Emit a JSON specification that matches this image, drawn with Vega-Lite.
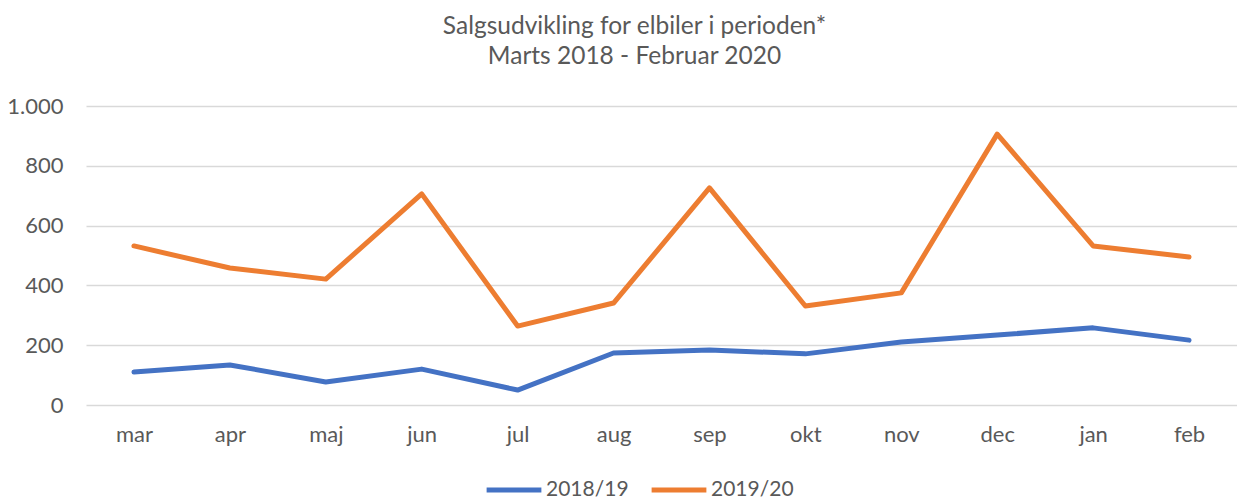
{
  "$schema": "https://vega.github.io/schema/vega-lite/v6.json",
  "autosize": "none",
  "width": 1151,
  "height": 299,
  "padding": {"left": 86, "top": 106, "right": 0, "bottom": 95},
  "background": "white",
  "config": {"font": "Lato", "view": {"stroke": null}},
  "title": {
    "text": ["Salgsudvikling for elbiler i perioden*", "Marts 2018 - Februar 2020"],
    "fontSize": 24.5, "fontWeight": "normal", "color": "#595959",
    "lineHeight": 30, "anchor": "middle", "dx": -27, "offset": 26
  },
  "data": {"values": [
    {"m": "mar", "s": "2018/19", "v": 110}, {"m": "apr", "s": "2018/19", "v": 134},
    {"m": "maj", "s": "2018/19", "v": 77}, {"m": "jun", "s": "2018/19", "v": 120},
    {"m": "jul", "s": "2018/19", "v": 50}, {"m": "aug", "s": "2018/19", "v": 174},
    {"m": "sep", "s": "2018/19", "v": 184}, {"m": "okt", "s": "2018/19", "v": 171},
    {"m": "nov", "s": "2018/19", "v": 211}, {"m": "dec", "s": "2018/19", "v": 234},
    {"m": "jan", "s": "2018/19", "v": 258}, {"m": "feb", "s": "2018/19", "v": 217},
    {"m": "mar", "s": "2019/20", "v": 532}, {"m": "apr", "s": "2019/20", "v": 458},
    {"m": "maj", "s": "2019/20", "v": 421}, {"m": "jun", "s": "2019/20", "v": 706},
    {"m": "jul", "s": "2019/20", "v": 264}, {"m": "aug", "s": "2019/20", "v": 341},
    {"m": "sep", "s": "2019/20", "v": 726}, {"m": "okt", "s": "2019/20", "v": 331},
    {"m": "nov", "s": "2019/20", "v": 375}, {"m": "dec", "s": "2019/20", "v": 906},
    {"m": "jan", "s": "2019/20", "v": 532}, {"m": "feb", "s": "2019/20", "v": 495}
  ]},
  "mark": {"type": "line", "strokeWidth": 5, "strokeCap": "round", "strokeJoin": "round"},
  "encoding": {
    "x": {
      "field": "m", "type": "ordinal",
      "sort": ["mar","apr","maj","jun","jul","aug","sep","okt","nov","dec","jan","feb"],
      "scale": {"type": "point", "padding": 0.5},
      "axis": {"title": null, "labelAngle": 0, "labelFontSize": 22, "labelColor": "#595959",
               "ticks": false, "domain": false, "labelPadding": 19, "grid": false}
    },
    "y": {
      "field": "v", "type": "quantitative",
      "scale": {"domain": [0, 1000]},
      "axis": {"title": null, "values": [0,200,400,600,800,1000], "format": ",d",
               "labelExpr": "replace(datum.label, ',', '.')",
               "labelFontSize": 22, "labelColor": "#595959", "labelPadding": 23,
               "ticks": false, "domain": false, "gridColor": "#d9d9d9", "gridWidth": 1.5}
    },
    "color": {
      "field": "s", "type": "nominal",
      "scale": {"domain": ["2018/19", "2019/20"], "range": ["#4472C4", "#ED7D31"]},
      "legend": {"title": null, "orient": "none", "direction": "horizontal",
                 "legendX": 398, "legendY": 354, "symbolType": "stroke",
                 "symbolSize": 3000, "symbolStrokeWidth": 5, "labelFontSize": 21,
                 "labelColor": "#595959", "labelOffset": 2, "columnPadding": 12}
    }
  }
}
